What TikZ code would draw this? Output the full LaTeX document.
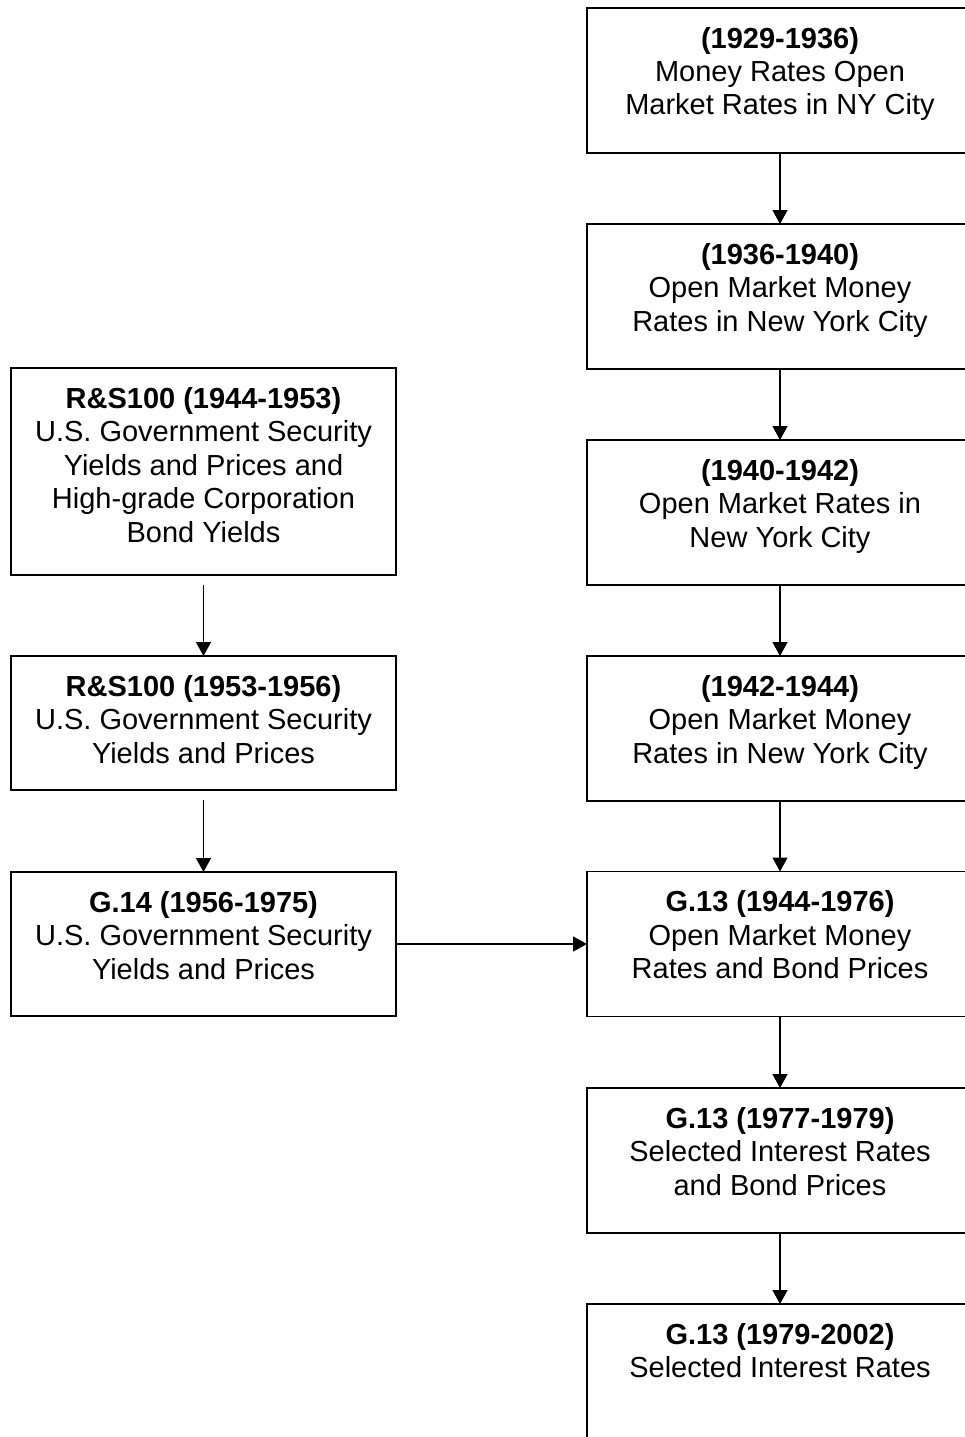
\documentclass[tikz,border=0pt]{standalone}
\usepackage{fontspec}
\setmainfont{Liberation Sans}
\usetikzlibrary{arrows.meta}
\newcommand{\bxtext}[3]{\parbox[c][#2][t]{#1}{\centering\fontsize{29}{33.5}\selectfont\rule{0pt}{40pt}#3}}
\begin{document}
\begin{tikzpicture}[x=1pt,y=-1pt,
  box/.style={draw, line width=1.3pt, inner sep=0pt, outer sep=0pt},
  arr/.style={line width=1.3pt, -{Triangle[length=14pt,width=15pt]}}]
\useasboundingbox (0,0) rectangle (965,1437);
% right column
\node[box] (r1) at (780,80.5) {\bxtext{386pt}{145pt}{\textbf{(1929-1936)}\\Money Rates Open\\Market Rates in NY City}};
\node[box] (r2) at (780,296.5) {\bxtext{386pt}{145pt}{\textbf{(1936-1940)}\\Open Market Money\\Rates in New York City}};
\node[box] (r3) at (780,512.5) {\bxtext{386pt}{145pt}{\textbf{(1940-1942)}\\Open Market Rates in\\New York City}};
\node[box] (r4) at (780,728.5) {\bxtext{386pt}{145pt}{\textbf{(1942-1944)}\\Open Market Money\\Rates in New York City}};
\node[box] (r5) at (780,944) {\bxtext{386pt}{145pt}{\textbf{G.13 (1944-1976)}\\Open Market Money\\Rates and Bond Prices}};
\node[box] (r6) at (780,1160.5) {\bxtext{386pt}{145pt}{\textbf{G.13 (1977-1979)}\\Selected Interest Rates\\and Bond Prices}};
\node[box] (r7) at (780,1376.5) {\bxtext{386pt}{145pt}{\textbf{G.13 (1979-2002)}\\Selected Interest Rates}};
% left column
\node[box] (l1) at (203.5,471.5) {\bxtext{385pt}{207pt}{\textbf{R\&S100 (1944-1953)}\\U.S. Government Security\\Yields and Prices and\\High-grade Corporation\\Bond Yields}};
\node[box] (l2) at (203.5,723) {\bxtext{385pt}{134pt}{\textbf{R\&S100 (1953-1956)}\\U.S. Government Security\\Yields and Prices}};
\node[box] (l3) at (203.5,944) {\bxtext{385pt}{144pt}{\textbf{G.14 (1956-1975)}\\U.S. Government Security\\Yields and Prices}};
% arrows
\draw[arr] (r1) -- (r2);
\draw[arr] (r2) -- (r3);
\draw[arr] (r3) -- (r4);
\draw[arr] (r4) -- (r5);
\draw[arr] (r5) -- (r6);
\draw[arr] (r6) -- (r7);
\draw[arr, shorten <=10pt] (l1) -- (l2);
\draw[arr, shorten <=10pt] (l2) -- (l3);
\draw[arr] (l3.east) -- (r5.west);
\end{tikzpicture}
\end{document}
